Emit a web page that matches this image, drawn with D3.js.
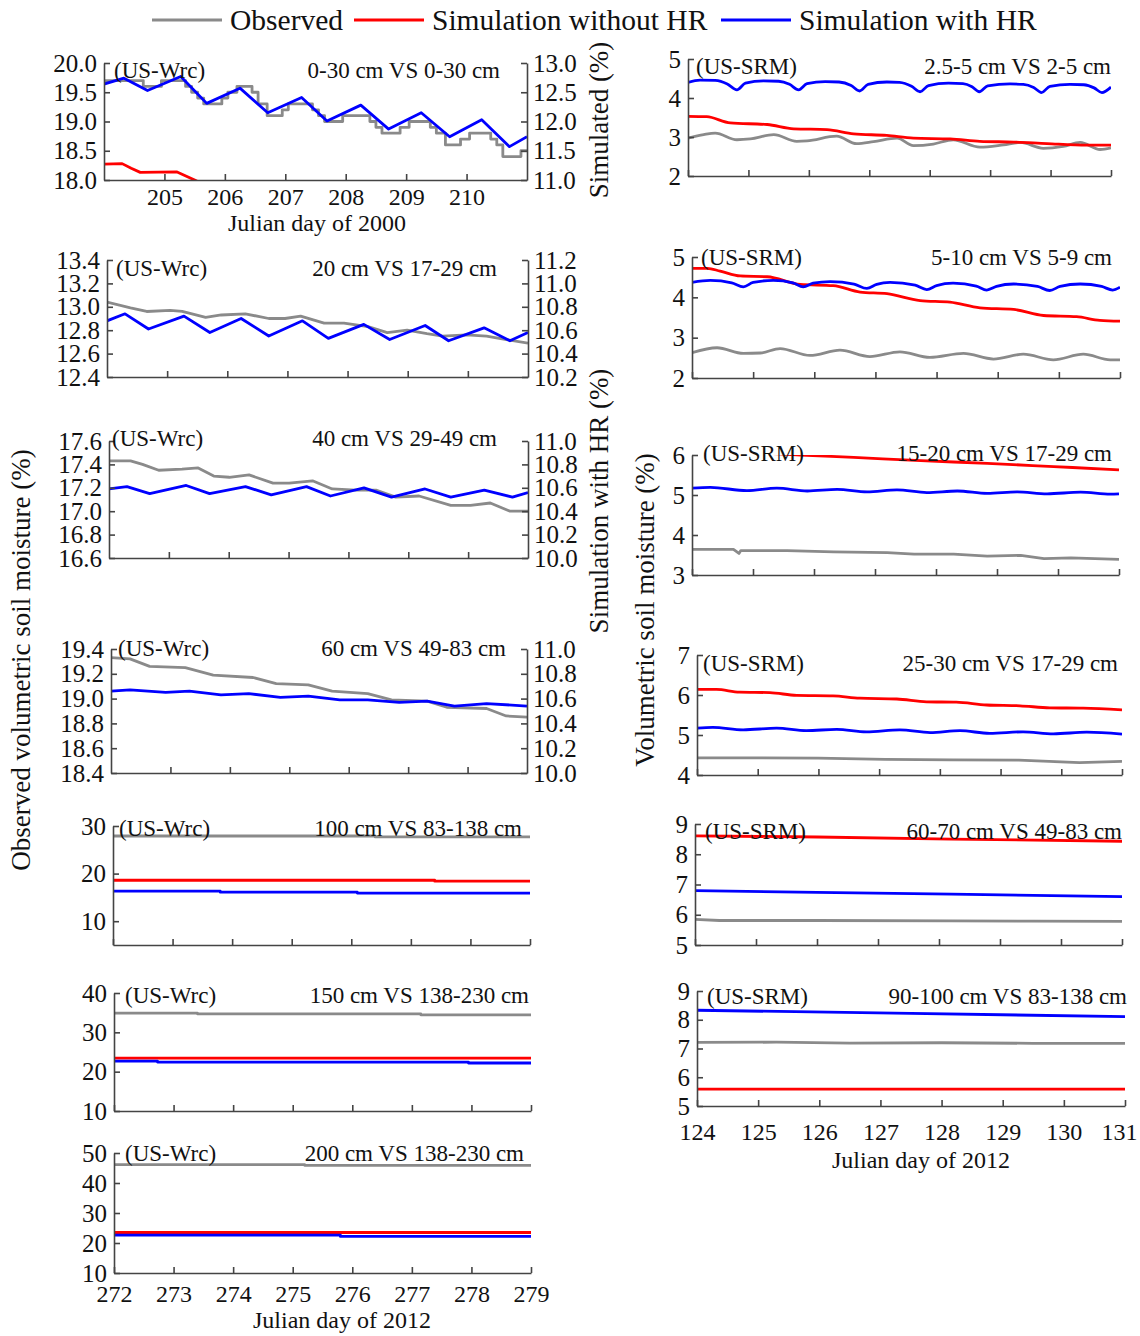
<!DOCTYPE html>
<html>
<head>
<meta charset="utf-8">
<style>
  body { margin: 0; background: #fff; }
  svg { display: block; }
</style>
</head>
<body>
<svg id="chart" width="1140" height="1336"></svg>
<script src="https://d3js.org/d3.v7.min.js"></script>
<script>
// ---- series labels ----
var seriesNames = ["Observed", "Simulation without HR", "Simulation with HR"];

// ---- tick values ----
var days2000 = [205, 206, 207, 208, 209, 210];
var daysWrc2012 = [272, 273, 274, 275, 276, 277, 278, 279];
var daysSrm2012 = [124, 125, 126, 127, 128, 129, 130, 131];

// ---- US-Wrc, Julian day 2000 (observed on left axis, simulated on right axis) ----
// 0-30 cm VS 0-30 cm
var wrc0Obs = [[204,19.7],[204.65,19.6],[204.95,19.7],[205.35,19.6],[205.45,19.5],[205.55,19.4],[205.65,19.3],[205.95,19.4],[206.05,19.5],[206.2,19.6],[206.45,19.5],[206.55,19.3],[206.7,19.1],[206.95,19.2],[207.05,19.3],[207.45,19.2],[207.55,19.1],[207.65,19.0],[207.95,19.1],[208.4,19.0],[208.5,18.9],[208.6,18.8],[208.9,18.9],[209.05,19.0],[209.4,18.9],[209.5,18.8],[209.65,18.6],[209.9,18.7],[210.05,18.8],[210.4,18.7],[210.5,18.6],[210.6,18.4],[210.9,18.5],[211,18.5]];
var wrc0NoHR = [[204,11.27],[204.3,11.28],[204.45,11.2],[204.6,11.13],[205.2,11.14],[205.5,11.0],[205.8,10.85]];
var wrc0HR = [[204,12.64],[204.33,12.74],[204.72,12.53],[205.27,12.77],[205.7,12.31],[206.25,12.57],[206.71,12.15],[207.27,12.41],[207.69,12.01],[208.25,12.28],[208.71,11.87],[209.25,12.15],[209.72,11.74],[210.25,12.03],[210.71,11.57],[211,11.74]];
// 20 cm VS 17-29 cm
var wrc20Obs = [[204,13.04],[204.39,12.99],[204.66,12.96],[205.05,12.97],[205.25,12.96],[205.64,12.91],[205.9,12.93],[206.3,12.94],[206.69,12.9],[206.96,12.9],[207.22,12.92],[207.61,12.86],[207.94,12.86],[208.34,12.83],[208.66,12.78],[208.99,12.8],[209.32,12.77],[209.58,12.75],[209.98,12.76],[210.31,12.75],[210.64,12.72],[211,12.69]];
var wrc20HR = [[204,10.68],[204.3,10.74],[204.69,10.61],[205.28,10.72],[205.71,10.58],[206.23,10.7],[206.69,10.55],[207.25,10.68],[207.68,10.53],[208.27,10.65],[208.7,10.52],[209.29,10.64],[209.68,10.51],[210.27,10.62],[210.7,10.51],[211,10.58]];
// 40 cm VS 29-49 cm
var wrc40Obs = [[204,17.43],[204.36,17.43],[204.56,17.4],[204.83,17.35],[205.22,17.36],[205.49,17.37],[205.75,17.3],[206.01,17.29],[206.34,17.31],[206.74,17.24],[207.01,17.24],[207.4,17.26],[207.73,17.19],[208.13,17.18],[208.46,17.18],[208.79,17.12],[209.18,17.13],[209.71,17.05],[210.04,17.05],[210.37,17.07],[210.7,17.0],[211,17.0]];
var wrc40HR = [[204,10.59],[204.3,10.61],[204.68,10.55],[205.29,10.62],[205.68,10.55],[206.28,10.61],[206.71,10.54],[207.3,10.61],[207.7,10.53],[208.26,10.6],[208.72,10.52],[209.28,10.59],[209.71,10.52],[210.27,10.58],[210.74,10.52],[211,10.56]];
// 60 cm VS 49-83 cm
var wrc60Obs = [[204,19.33],[204.32,19.32],[204.65,19.26],[205.25,19.25],[205.72,19.19],[206.39,19.17],[206.78,19.12],[207.32,19.11],[207.72,19.06],[208.32,19.04],[208.72,18.99],[209.32,18.98],[209.65,18.93],[210.32,18.92],[210.65,18.86],[211,18.85]];
var wrc60HR = [[204,10.66],[204.32,10.67],[204.92,10.65],[205.32,10.66],[205.85,10.63],[206.32,10.64],[206.85,10.61],[207.32,10.62],[207.85,10.59],[208.32,10.59],[208.85,10.57],[209.32,10.58],[209.78,10.54],[210.32,10.56],[211,10.54]];

// ---- US-Wrc, Julian day 2012 ----
var wrc100Obs = [[272,27.9],[276.4,27.7],[279,27.7]];
var wrc100NoHR = [[272,18.6],[277.4,18.4],[279,18.4]];
var wrc100HR = [[272,16.3],[273.8,16.1],[276.1,15.9],[279,15.9]];
var wrc150Obs = [[272,34.9],[273.4,34.7],[277.15,34.45],[279,34.45]];
var wrc150NoHR = [[272,23.45],[279,23.45]];
var wrc150HR = [[272,22.7],[272.73,22.45],[277.95,22.2],[279,22.2]];
var wrc200Obs = [[272,46.1],[275.2,45.9],[279,45.9]];
var wrc200NoHR = [[272,23.5],[279,23.5]];
var wrc200HR = [[272,22.65],[275.8,22.2],[279,22.2]];

// ---- US-SRM, Julian day 2012 ----
// 2.5-5 cm VS 2-5 cm
var srm2Obs = [[124,2.97],[124.26,3.06],[124.45,3.1],[124.81,2.93],[125.03,2.95],[125.42,3.06],[125.8,2.89],[125.97,2.9],[126.46,3.02],[126.79,2.83],[127.07,2.88],[127.46,2.97],[127.73,2.78],[128.06,2.82],[128.39,2.93],[128.83,2.74],[129.22,2.8],[129.5,2.86],[129.88,2.71],[130.21,2.76],[130.49,2.86],[130.82,2.68],[131,2.72]];
var srm2NoHR = [[124,3.53],[124.31,3.52],[124.7,3.36],[125.31,3.32],[125.75,3.21],[126.3,3.19],[126.74,3.08],[127.29,3.04],[127.73,2.97],[128.34,2.95],[128.83,2.89],[129.39,2.87],[129.94,2.83],[130.6,2.79],[131,2.79]];
var srm2HR = [[124,4.4],[124.2,4.46],[124.45,4.45],[124.65,4.36],[124.81,4.21],[124.95,4.38],[125.25,4.44],[125.5,4.43],[125.68,4.35],[125.83,4.21],[125.97,4.37],[126.27,4.42],[126.5,4.41],[126.7,4.32],[126.84,4.18],[126.98,4.35],[127.29,4.41],[127.5,4.4],[127.7,4.3],[127.84,4.16],[127.98,4.32],[128.31,4.38],[128.55,4.37],[128.7,4.29],[128.82,4.16],[128.96,4.31],[129.33,4.36],[129.55,4.35],[129.72,4.27],[129.85,4.14],[129.99,4.3],[130.32,4.35],[130.55,4.34],[130.72,4.26],[130.85,4.14],[131,4.28]];
// 5-10 cm VS 5-9 cm
var srm5Obs = [[124,2.63],[124.41,2.75],[124.84,2.61],[125.12,2.62],[125.44,2.73],[125.93,2.56],[126.42,2.69],[126.91,2.53],[127.4,2.65],[127.89,2.51],[128.44,2.61],[128.93,2.47],[129.42,2.59],[129.91,2.45],[130.4,2.59],[130.84,2.45],[131,2.45]];
var srm5NoHR = [[124,4.72],[124.25,4.72],[124.46,4.65],[124.79,4.53],[125.23,4.51],[125.77,4.32],[126.31,4.29],[126.75,4.13],[127.19,4.09],[127.73,3.92],[128.22,3.88],[128.71,3.74],[129.26,3.7],[129.75,3.55],[130.29,3.52],[130.67,3.43],[131,3.41]];
var srm5HR = [[124,4.37],[124.3,4.42],[124.65,4.36],[124.84,4.26],[125.0,4.37],[125.33,4.42],[125.65,4.36],[125.82,4.26],[125.98,4.35],[126.26,4.39],[126.65,4.33],[126.86,4.22],[127.02,4.32],[127.24,4.37],[127.65,4.3],[127.84,4.19],[128.0,4.29],[128.27,4.35],[128.65,4.28],[128.82,4.18],[128.98,4.27],[129.26,4.33],[129.65,4.27],[129.85,4.17],[130.02,4.27],[130.35,4.33],[130.7,4.27],[130.88,4.18],[131,4.25]];
// 15-20 cm VS 17-29 cm
var srm15Obs = [[124,3.64],[124.68,3.64],[124.77,3.54],[124.8,3.61],[125.56,3.61],[126.32,3.58],[127.2,3.56],[127.64,3.52],[128.29,3.52],[128.84,3.47],[129.39,3.49],[129.77,3.41],[130.21,3.43],[131,3.39]];
var srm15NoHR = [[124,6.12],[125,6.06],[125.78,6.0],[126.65,5.94],[127.75,5.86],[128.84,5.79],[129.93,5.71],[131,5.63]];
var srm15HR = [[124,5.17],[124.3,5.19],[124.9,5.11],[125.39,5.17],[125.89,5.1],[126.38,5.14],[126.87,5.08],[127.36,5.13],[127.85,5.06],[128.35,5.1],[128.84,5.04],[129.33,5.08],[129.82,5.03],[130.37,5.07],[130.86,5.02],[131,5.03]];
// 25-30 cm VS 17-29 cm
var srm25Obs = [[124,4.43],[124.9,4.43],[126.0,4.42],[127.1,4.39],[128.2,4.38],[129.3,4.37],[130.3,4.31],[131,4.34]];
var srm25NoHR = [[124,6.14],[124.32,6.14],[124.7,6.07],[125.2,6.06],[125.64,5.99],[126.24,5.98],[126.68,5.92],[127.29,5.9],[127.78,5.83],[128.27,5.82],[128.77,5.75],[129.32,5.73],[129.81,5.68],[130.36,5.67],[131,5.63]];
var srm25HR = [[124,5.17],[124.26,5.19],[124.76,5.13],[125.31,5.17],[125.8,5.11],[126.3,5.14],[126.79,5.08],[127.34,5.13],[127.84,5.06],[128.33,5.11],[128.82,5.04],[129.37,5.08],[129.87,5.03],[130.42,5.07],[131,5.02]];
// 60-70 cm VS 49-83 cm
var srm60Obs = [[124,5.85],[124.4,5.81],[126.0,5.81],[128.2,5.8],[129.5,5.79],[131,5.78]];
var srm60NoHR = [[124,8.61],[126.0,8.57],[128.2,8.5],[131,8.43]];
var srm60HR = [[124,6.8],[126.0,6.74],[128.2,6.68],[131,6.6]];
// 90-100 cm VS 83-138 cm
var srm90Obs = [[124,7.21],[125.3,7.22],[126.5,7.19],[128.0,7.2],[129.5,7.18],[131,7.18]];
var srm90NoHR = [[124,5.59],[131,5.59]];
var srm90HR = [[124,8.33],[127.5,8.22],[131,8.11]];

// ---- panel layout ----
var FONT = "'Liberation Serif', 'Times New Roman', serif";
var colors = ["#8a8a8a", "#ff0000", "#0000ff"];
var step = d3.curveStepAfter, lin = d3.curveLinear;

var panels = [
  {x0:104, x1:527, y0:63, y1:180, xDom:[204,211], xTicks:days2000, xLab:true, labDy:25,
   yDom:[18,20], yTicks:[18,18.5,19,19.5,20], rDom:[11,13], rTicks:[11,11.5,12,12.5,13], fmt:".1f",
   site:"(US-Wrc)", siteX:114, labY:78, depth:"0-30 cm VS 0-30 cm", depthX:500,
   obs:wrc0Obs, obsCurve:step, noHR:wrc0NoHR, hr:wrc0HR},
  {x0:107, x1:528, y0:260, y1:377, xDom:[204,211], xTicks:days2000, xLab:false,
   yDom:[12.4,13.4], yTicks:[12.4,12.6,12.8,13.0,13.2,13.4], rDom:[10.2,11.2], rTicks:[10.2,10.4,10.6,10.8,11.0,11.2], fmt:".1f",
   site:"(US-Wrc)", siteX:116, labY:276, depth:"20 cm VS 17-29 cm", depthX:497,
   obs:wrc20Obs, obsCurve:lin, noHR:null, hr:wrc20HR},
  {x0:109, x1:528, y0:441, y1:558, xDom:[204,211], xTicks:days2000, xLab:false,
   yDom:[16.6,17.6], yTicks:[16.6,16.8,17.0,17.2,17.4,17.6], rDom:[10,11], rTicks:[10,10.2,10.4,10.6,10.8,11], fmt:".1f",
   site:"(US-Wrc)", siteX:112, labY:446, depth:"40 cm VS 29-49 cm", depthX:497,
   obs:wrc40Obs, obsCurve:lin, noHR:null, hr:wrc40HR},
  {x0:111, x1:527, y0:649, y1:773, xDom:[204,211], xTicks:days2000, xLab:false,
   yDom:[18.4,19.4], yTicks:[18.4,18.6,18.8,19.0,19.2,19.4], rDom:[10,11], rTicks:[10,10.2,10.4,10.6,10.8,11], fmt:".1f",
   site:"(US-Wrc)", siteX:118, labY:656, depth:"60 cm VS 49-83 cm", depthX:506,
   obs:wrc60Obs, obsCurve:lin, noHR:null, hr:wrc60HR},
  {x0:113, x1:530, y0:826, y1:945, xDom:[272,279], xTicks:daysWrc2012, xLab:false,
   yDom:[5,30], yTicks:[10,20,30], fmt:"d",
   site:"(US-Wrc)", siteX:119, labY:836, depth:"100 cm VS 83-138 cm", depthX:522,
   obs:wrc100Obs, obsCurve:step, noHR:wrc100NoHR, hr:wrc100HR, simCurve:step},
  {x0:114, x1:531, y0:993, y1:1111, xDom:[272,279], xTicks:daysWrc2012, xLab:false,
   yDom:[10,40], yTicks:[10,20,30,40], fmt:"d",
   site:"(US-Wrc)", siteX:125, labY:1003, depth:"150 cm VS 138-230 cm", depthX:529,
   obs:wrc150Obs, obsCurve:step, noHR:wrc150NoHR, hr:wrc150HR, simCurve:step},
  {x0:114, x1:531, y0:1153, y1:1273, xDom:[272,279], xTicks:daysWrc2012, xLab:true, labDy:29,
   yDom:[10,50], yTicks:[10,20,30,40,50], fmt:"d",
   site:"(US-Wrc)", siteX:125, labY:1161, depth:"200 cm VS 138-230 cm", depthX:524,
   obs:wrc200Obs, obsCurve:step, noHR:wrc200NoHR, hr:wrc200HR, simCurve:step},
  {x0:688, x1:1111, y0:59, y1:176, xDom:[124,131], xTicks:daysSrm2012, xLab:false,
   yDom:[2,5], yTicks:[2,3,4,5], fmt:"d",
   site:"(US-SRM)", siteX:696, labY:74, depth:"2.5-5 cm VS 2-5 cm", depthX:1111,
   obs:srm2Obs, obsCurve:d3.curveMonotoneX, noHR:srm2NoHR, hr:srm2HR, simCurve:d3.curveMonotoneX},
  {x0:692, x1:1120, y0:257, y1:378, xDom:[124,131], xTicks:daysSrm2012, xLab:false,
   yDom:[2,5], yTicks:[2,3,4,5], fmt:"d",
   site:"(US-SRM)", siteX:701, labY:265, depth:"5-10 cm VS 5-9 cm", depthX:1112,
   obs:srm5Obs, obsCurve:d3.curveMonotoneX, noHR:srm5NoHR, hr:srm5HR, simCurve:d3.curveMonotoneX},
  {x0:692, x1:1119, y0:455, y1:575, xDom:[124,131], xTicks:daysSrm2012, xLab:false,
   yDom:[3,6], yTicks:[3,4,5,6], fmt:"d",
   site:"(US-SRM)", siteX:703, labY:461, depth:"15-20 cm VS 17-29 cm", depthX:1112,
   obs:srm15Obs, obsCurve:lin, noHR:srm15NoHR, hr:srm15HR, simCurve:d3.curveMonotoneX},
  {x0:697, x1:1122, y0:655, y1:775, xDom:[124,131], xTicks:daysSrm2012, xLab:false,
   yDom:[4,7], yTicks:[4,5,6,7], fmt:"d",
   site:"(US-SRM)", siteX:703, labY:671, depth:"25-30 cm VS 17-29 cm", depthX:1118,
   obs:srm25Obs, obsCurve:lin, noHR:srm25NoHR, hr:srm25HR, simCurve:d3.curveMonotoneX},
  {x0:695, x1:1122, y0:824, y1:945, xDom:[124,131], xTicks:daysSrm2012, xLab:false,
   yDom:[5,9], yTicks:[5,6,7,8,9], fmt:"d",
   site:"(US-SRM)", siteX:705, labY:839, depth:"60-70 cm VS 49-83 cm", depthX:1122,
   obs:srm60Obs, obsCurve:lin, noHR:srm60NoHR, hr:srm60HR, simCurve:lin},
  {x0:697, x1:1125, y0:991, y1:1106, xDom:[124,131], xTicks:daysSrm2012, xLab:true, labDy:34,
   yDom:[5,9], yTicks:[5,6,7,8,9], fmt:"d",
   site:"(US-SRM)", siteX:707, labY:1004, depth:"90-100 cm VS 83-138 cm", depthX:1127,
   obs:srm90Obs, obsCurve:lin, noHR:srm90NoHR, hr:srm90HR, simCurve:lin}
];

var svg = d3.select("#chart");
svg.append("rect").attr("width", 1140).attr("height", 1336).attr("fill", "#fff");

function styleAxis(g, size) {
  g.selectAll("path, line").attr("stroke", "#444").attr("stroke-width", 1.6);
  g.selectAll("text").attr("fill", "#111").style("font-family", FONT).style("font-size", size + "px");
}

panels.forEach(function (p, i) {
  var x = d3.scaleLinear().domain(p.xDom).range([p.x0, p.x1]);
  var y = d3.scaleLinear().domain(p.yDom).range([p.y1, p.y0]);
  var yr = p.rDom ? d3.scaleLinear().domain(p.rDom).range([p.y1, p.y0]) : y;

  var clipId = "clip" + i;
  svg.append("clipPath").attr("id", clipId)
    .append("rect").attr("x", p.x0).attr("y", p.y0)
    .attr("width", p.x1 - p.x0).attr("height", p.y1 - p.y0);

  var lines = svg.append("g").attr("clip-path", "url(#" + clipId + ")");
  function draw(data, scale, curve, color) {
    if (!data) return;
    var gen = d3.line().x(function (d) { return x(d[0]); }).y(function (d) { return scale(d[1]); }).curve(curve);
    lines.append("path").datum(data).attr("d", gen)
      .attr("fill", "none").attr("stroke", color).attr("stroke-width", 2.8)
      .attr("stroke-linejoin", "round");
  }
  draw(p.obs, y, p.obsCurve, colors[0]);
  draw(p.noHR, yr, p.simCurve || lin, colors[1]);
  draw(p.hr, yr, p.simCurve || lin, colors[2]);

  // axes, ticks inward
  var gx = svg.append("g").attr("transform", "translate(0," + p.y1 + ")")
    .call(d3.axisBottom(x).tickValues(p.xTicks).tickSize(-6).tickSizeOuter(0)
      .tickPadding(p.labDy ? p.labDy - 17 : 6)
      .tickFormat(p.xLab ? d3.format("d") : function () { return ""; }));
  styleAxis(gx, 24);
  // last label of the right column is pulled in so it stays on the page
  gx.selectAll(".tick text").filter(function (d) { return d === 131; }).attr("dx", "-0.25em");

  var gy = svg.append("g").attr("transform", "translate(" + p.x0 + ",0)")
    .call(d3.axisLeft(y).tickValues(p.yTicks).tickSize(-6).tickSizeOuter(0).tickPadding(7)
      .tickFormat(d3.format(p.fmt)));
  styleAxis(gy, 25);

  if (p.rDom) {
    var gr = svg.append("g").attr("transform", "translate(" + p.x1 + ",0)")
      .call(d3.axisRight(yr).tickValues(p.rTicks).tickSize(-6).tickSizeOuter(0).tickPadding(6)
        .tickFormat(d3.format(".1f")));
    styleAxis(gr, 25);
  }

  // in-panel labels
  svg.append("text").attr("x", p.siteX).attr("y", p.labY)
    .style("font-family", FONT).style("font-size", "23px").attr("fill", "#111").text(p.site);
  svg.append("text").attr("x", p.depthX).attr("y", p.labY).attr("text-anchor", "end")
    .style("font-family", FONT).style("font-size", "23px").attr("fill", "#111").text(p.depth);
});

// axis titles
function title(txt, x, y, size, rot) {
  svg.append("text")
    .attr("transform", "translate(" + x + "," + y + ")" + (rot ? " rotate(-90)" : ""))
    .attr("text-anchor", "middle").attr("dominant-baseline", "central")
    .style("font-family", FONT).style("font-size", size + "px").attr("fill", "#111")
    .text(txt);
}
title("Julian day of 2000", 317, 223, 24, false);
title("Julian day of 2012", 342, 1320, 24, false);
title("Julian day of 2012", 921, 1160, 24, false);
title("Simulated (%)", 599, 120, 27, true);
title("Simulation with HR (%)", 599, 501, 27, true);
title("Observed volumetric soil moisture (%)", 21, 660, 27, true);
title("Volumetric soil moisture (%)", 645, 610, 27, true);

// legend
var legendX = [152, 354, 721];
var legend = svg.append("g");
seriesNames.forEach(function (name, i) {
  legend.append("line").attr("x1", legendX[i]).attr("x2", legendX[i] + 70)
    .attr("y1", 20).attr("y2", 20).attr("stroke", colors[i]).attr("stroke-width", 2.8);
  legend.append("text").attr("x", legendX[i] + 78).attr("y", 20)
    .attr("dominant-baseline", "central")
    .style("font-family", FONT).style("font-size", "29.5px").attr("fill", "#111").text(name);
});
</script>
</body>
</html>
